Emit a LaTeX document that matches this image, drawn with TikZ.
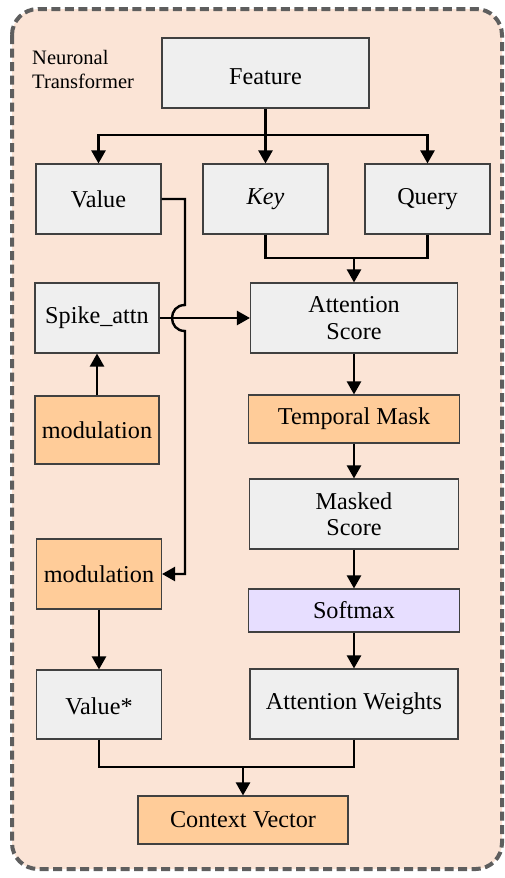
\documentclass[tikz,border=0pt]{standalone}
\usepackage{fontspec}
\setmainfont{Liberation Serif}
\usetikzlibrary{arrows.meta}

\definecolor{panelbg}{HTML}{FBE4D6}
\definecolor{panelrim}{HTML}{5E5E5E}
\definecolor{boxgray}{HTML}{EFEFEF}
\definecolor{boxorange}{HTML}{FFCC99}
\definecolor{boxpurple}{HTML}{E7DEFF}
\definecolor{boxrim}{HTML}{404040}

% pad the top of a label so it sits lower in its box
\newcommand{\lowerby}[2]{\raisebox{0pt}[\dimexpr\height+#1\relax]{#2}}

\begin{document}
\begin{tikzpicture}[x=1pt,y=-1pt,
  blk/.style={draw=boxrim, line width=1.1pt, align=center, inner sep=2pt,
    font=\fontsize{24.2}{26.5}\selectfont},
  graybox/.style={blk, fill=boxgray},
  orangebox/.style={blk, fill=boxorange},
  purplebox/.style={blk, fill=boxpurple},
  wire/.style={line width=2.4pt, line join=miter},
  flow/.style={wire, -{Triangle[length=13pt,width=14pt]}}
]
\useasboundingbox (0,0) rectangle (505,878);

% dashed panel
\draw[panelrim, fill=panelbg, line width=4pt, dash pattern=on 9pt off 4.5pt,
  rounded corners=26pt] (12,9) rectangle (502,869);

\node[anchor=west, align=left, inner sep=0pt, font=\fontsize{20.5}{24}\selectfont]
  (title) at (32,69) {Neuronal\\Transformer};

% boxes
\node[graybox, minimum width=207pt, minimum height=70pt] (feat) at (265.5,73) {\lowerby{8pt}{Feature}};
\node[graybox, minimum width=125pt, minimum height=70pt] (val) at (98.5,199) {Value};
\node[graybox, minimum width=125pt, minimum height=70pt] (key) at (265.5,199) {\textit{Key}};
\node[graybox, minimum width=125pt, minimum height=70pt] (qry) at (427.5,199) {Query};
\node[graybox, minimum width=124pt, minimum height=70pt] (spk) at (97,318) {Spike\_attn};
\node[graybox, minimum width=207pt, minimum height=70pt] (ascore) at (354,318) {Attention\\Score};
\node[orangebox, minimum width=124pt, minimum height=68pt] (modA) at (97,430) {modulation};
\node[orangebox, minimum width=211pt, minimum height=48pt] (tmask) at (354,419) {Temporal Mask};
\node[graybox, minimum width=209pt, minimum height=70pt] (mscore) at (354,514) {Masked\\Score};
\node[orangebox, minimum width=125pt, minimum height=70pt] (modB) at (99,574) {modulation};
\node[purplebox, minimum width=211pt, minimum height=43pt] (smax) at (354,610.5) {Softmax};
\node[graybox, minimum width=125pt, minimum height=69pt] (valS) at (99,704.5) {\lowerby{4pt}{Value*}};
\node[graybox, minimum width=208pt, minimum height=70pt] (attw) at (354,704) {Attention Weights};
\node[orangebox, minimum width=210pt, minimum height=48pt] (ctx) at (243,820) {Context Vector};

% split of the feature into value, key and query
\coordinate (fsplit) at (265.5,135);
\draw[wire] (feat.south) -- (fsplit);
\draw[flow] (fsplit) -| (val.north);
\draw[flow] (fsplit) -- (key.north);
\draw[flow] (fsplit) -| (qry.north);

% key and query join into the attention score
\coordinate (kq) at (354,258);
\draw[wire] (key.south) |- (kq);
\draw[wire] (qry.south) |- (kq);
\draw[flow] (kq) -- (ascore.north);

% spike attention feeds the score
\draw[flow] (spk.east) -- (ascore.west);
\draw[flow] (modA.north) -- (spk.south);

% value routed down to the second modulation, jumping over the spike line
\coordinate (vbend) at (185,199);
\coordinate (jtop) at (185,305);
\coordinate (jbot) at (185,331);
\draw[flow] (val.east) -- (vbend) -- (jtop)
  .. controls (167.7,305) and (167.7,331) .. (jbot) |- (modB.east);

% score pipeline
\draw[flow] (ascore.south) -- (tmask.north);
\draw[flow] (tmask.south) -- (mscore.north);
\draw[flow] (mscore.south) -- (smax.north);
\draw[flow] (smax.south) -- (attw.north);
\draw[flow] (modB.south) -- (valS.north);

% weighted values give the context vector
\coordinate (vc) at (243,767);
\draw[wire] (valS.south) |- (vc);
\draw[wire] (attw.south) |- (vc);
\draw[flow] (vc) -- (ctx.north);
\end{tikzpicture}
\end{document}
